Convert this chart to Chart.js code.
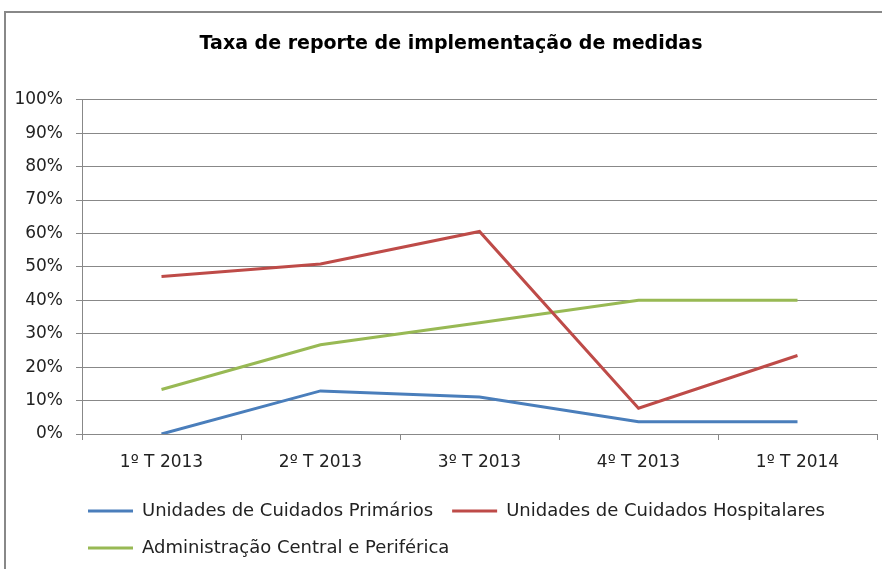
<!DOCTYPE html>
<html>
<head>
<meta charset="utf-8">
<script src="https://cdn.jsdelivr.net/npm/chart.js@4.4.0/dist/chart.umd.min.js"></script>
<style>
  html, body { margin: 0; padding: 0; background: #fff; overflow: hidden; }
  #frame { position: absolute; left: 4px; top: 11px; width: 1000px; height: 1000px; border: 2px solid #888; }
  #wrap { position: absolute; left: 0; top: 0; width: 882px; height: 580px; }
</style>
</head>
<body>
<div id="frame"></div>
<div id="wrap"><canvas id="lineChart" width="882" height="580"></canvas></div>
<script>
// trimestres
let categorias = ['1º T 2013', '2º T 2013', '3º T 2013', '4º T 2013', '1º T 2014']
// valores em %
let primarios = [0, 12.9, 11.1, 3.7, 3.7]
let hospitalares = [47.1, 50.9, 60.6, 7.7, 23.5]
let administracao = [13.3, 26.7, 33.3, 40, 40]
let nomes = ['Unidades de Cuidados Primários', 'Unidades de Cuidados Hospitalares', 'Administração Central e Periférica']
let cores = ['#4a7ebb', '#be4b48', '#98b954']

let fonte = 'DejaVu Sans'
let cinza = '#888'

let data_1 = {
    labels: categorias,
    datasets: [
        { label: nomes[0], data: primarios, borderColor: cores[0], backgroundColor: cores[0] },
        { label: nomes[1], data: hospitalares, borderColor: cores[1], backgroundColor: cores[1] },
        { label: nomes[2], data: administracao, borderColor: cores[2], backgroundColor: cores[2] }
    ]
}

// empurra a legenda e o titulo para a direita, como no Excel
let deslocar = {
    id: 'deslocar',
    afterLayout: function (chart) {
        chart.legend.left += 69
        chart.titleBlock.left += 25
    }
}

let options = {
    responsive: false,
    animation: false,
    layout: { padding: { left: 0, right: 5, top: 0, bottom: 13 } },
    elements: {
        line: { borderWidth: 3, tension: 0 },
        point: { radius: 0, borderWidth: 3 }
    },
    plugins: {
        title: {
            display: true,
            text: 'Taxa de reporte de implementação de medidas',
            color: '#000',
            font: { family: fonte, size: 19, weight: 'bold' },
            padding: { top: 33, bottom: 44 }
        },
        legend: {
            display: true,
            position: 'bottom',
            align: 'start',
            labels: {
                usePointStyle: true,
                pointStyle: 'line',
                pointStyleWidth: 45,
                padding: 19,
                color: '#222',
                font: { family: fonte, size: 18 }
            }
        },
        tooltip: { enabled: false }
    },
    scales: {
        x: {
            offset: true,
            grid: { offset: true, drawOnChartArea: false, tickLength: 6, color: cinza },
            border: { color: cinza },
            ticks: { color: '#222', padding: 12, font: { family: fonte, size: 17 } },
            afterFit: function (s) { s.height = 49 }
        },
        y: {
            min: 0,
            max: 100,
            grid: { tickLength: 6, color: cinza },
            border: { color: cinza },
            ticks: {
                stepSize: 10,
                color: '#222',
                padding: 13,
                font: { family: fonte, size: 17 },
                callback: function (v) { return v + '%' }
            },
            afterFit: function (s) { s.width = 82 }
        }
    }
}

let ctx = document.getElementById('lineChart').getContext('2d')
let lineChart = new Chart(ctx, { type: 'line', data: data_1, options: options, plugins: [deslocar] })
</script>
</body>
</html>
